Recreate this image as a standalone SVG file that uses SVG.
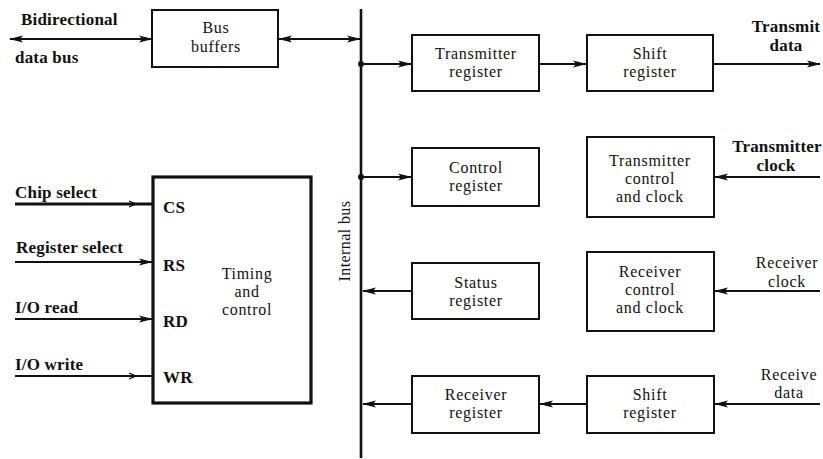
<svg xmlns="http://www.w3.org/2000/svg" width="823" height="459" viewBox="0 0 823 459">
  <style>
    .box { fill: #fff; stroke: #111; stroke-width: 2; }
    .heavy { fill: #fff; stroke: #111; stroke-width: 3.2; }
    .wire { fill: none; stroke: #111; stroke-width: 1.8; }
    .thick { fill: none; stroke: #111; stroke-width: 3; }
    .bus { fill: none; stroke: #111; stroke-width: 2.6; }
    text { font-family: "Liberation Serif", "Times New Roman", serif; font-size: 16px; letter-spacing: 0.7px; fill: #111; }
    .c { text-anchor: middle; }
    .b { font-weight: bold; font-size: 17px; letter-spacing: 0.2px; }
    .s { font-size: 16px; letter-spacing: 0.4px; }
  </style>
  <defs>
    <marker id="arr" viewBox="0 0 14 8" refX="13" refY="4" markerWidth="14" markerHeight="8" markerUnits="userSpaceOnUse" orient="auto-start-reverse">
      <path d="M0,0.5 L14,4 L0,7.5 L3,4 Z" fill="#111"/>
    </marker>
    <marker id="tick" viewBox="0 0 10 8" refX="6" refY="4" markerWidth="10" markerHeight="8" markerUnits="userSpaceOnUse" orient="auto">
      <path d="M0,1 L7,4 L0,7" fill="none" stroke="#111" stroke-width="1.3"/>
    </marker>
  </defs>

  <!-- connectors -->
  <g id="connectors">
    <!-- internal bus -->
    <line class="bus" x1="361" y1="9" x2="361" y2="458"/>
    <circle cx="361" cy="64" r="3" fill="#111"/>
    <circle cx="361" cy="177" r="3" fill="#111"/>

    <line class="wire" x1="10" y1="39" x2="152" y2="39" marker-start="url(#arr)" marker-end="url(#arr)"/>
    <line class="wire" x1="279" y1="39" x2="360" y2="39" marker-start="url(#arr)" marker-end="url(#arr)"/>

    <line class="wire" x1="361" y1="64" x2="411" y2="64" marker-end="url(#arr)"/>
    <line class="wire" x1="540" y1="64" x2="586" y2="64" marker-end="url(#arr)"/>
    <line class="wire" x1="714" y1="64" x2="820" y2="64" marker-end="url(#arr)"/>

    <line class="wire" x1="361" y1="177" x2="411" y2="177" marker-end="url(#arr)"/>
    <line class="wire" x1="820" y1="177" x2="715" y2="177" marker-end="url(#arr)"/>

    <line class="wire" x1="411" y1="291" x2="363" y2="291" marker-end="url(#arr)"/>
    <line class="wire" x1="820" y1="291" x2="715" y2="291" marker-end="url(#arr)"/>

    <line class="wire" x1="411" y1="404" x2="363" y2="404" marker-end="url(#arr)"/>
    <line class="wire" x1="586" y1="404" x2="540" y2="404" marker-end="url(#arr)"/>
    <line class="wire" x1="820" y1="404" x2="715" y2="404" marker-end="url(#arr)"/>

    <!-- control inputs -->
    <polyline class="thick" points="15,204 135,204 152,204" marker-mid="url(#tick)"/>
    <line class="wire" x1="15" y1="262" x2="152" y2="262" marker-end="url(#arr)"/>
    <line class="wire" x1="15" y1="319" x2="152" y2="319" marker-end="url(#arr)"/>
    <polyline class="wire" points="15,376 135,376 152,376" marker-mid="url(#tick)"/>
  </g>

  <!-- free labels -->
  <g id="labels">
    <text class="b" x="21" y="25">Bidirectional</text>
    <text class="b" x="15" y="63">data bus</text>
    <text class="b c" x="786" y="32">Transmit</text>
    <text class="b c" x="786" y="51">data</text>
    <text class="b c" x="777" y="152">Transmitter</text>
    <text class="b c" x="776" y="171">clock</text>
    <text class="c" x="787" y="268">Receiver</text>
    <text class="c" x="787" y="287">clock</text>
    <text class="c" x="789" y="380">Receive</text>
    <text class="c" x="789" y="398">data</text>
    <text class="b" x="15" y="198">Chip select</text>
    <text class="b" x="16" y="253">Register select</text>
    <text class="b" x="15" y="313">I/O read</text>
    <text class="b" x="15" y="370">I/O write</text>
    <text class="s c" transform="translate(350,241) rotate(-90)">Internal bus</text>
  </g>

  <g id="bus-buffers">
    <rect class="box" x="152" y="10" width="126" height="57"/>
    <text class="c" x="216" y="33">Bus</text>
    <text class="c" x="216" y="52">buffers</text>
  </g>

  <g id="transmitter-register">
    <rect class="box" x="412" y="35" width="127" height="56"/>
    <text class="c" x="476" y="59">Transmitter</text>
    <text class="c" x="476" y="77">register</text>
  </g>

  <g id="tx-shift-register">
    <rect class="box" x="587" y="35" width="126" height="56"/>
    <text class="c" x="650" y="59">Shift</text>
    <text class="c" x="650" y="77">register</text>
  </g>

  <g id="control-register">
    <rect class="box" x="412" y="148" width="127" height="58"/>
    <text class="c" x="476" y="173">Control</text>
    <text class="c" x="476" y="191">register</text>
  </g>

  <g id="transmitter-control">
    <rect class="box" x="587" y="137" width="127" height="80"/>
    <text class="c" x="650" y="166">Transmitter</text>
    <text class="c" x="650" y="184">control</text>
    <text class="c" x="650" y="202">and clock</text>
  </g>

  <g id="status-register">
    <rect class="box" x="412" y="263" width="127" height="56"/>
    <text class="c" x="476" y="288">Status</text>
    <text class="c" x="476" y="306">register</text>
  </g>

  <g id="receiver-control">
    <rect class="box" x="587" y="252" width="127" height="79"/>
    <text class="c" x="650" y="277">Receiver</text>
    <text class="c" x="650" y="295">control</text>
    <text class="c" x="650" y="313">and clock</text>
  </g>

  <g id="receiver-register">
    <rect class="box" x="412" y="376" width="127" height="57"/>
    <text class="c" x="476" y="400">Receiver</text>
    <text class="c" x="476" y="418">register</text>
  </g>

  <g id="rx-shift-register">
    <rect class="box" x="587" y="376" width="127" height="57"/>
    <text class="c" x="650" y="400">Shift</text>
    <text class="c" x="650" y="418">register</text>
  </g>

  <g id="timing-control">
    <rect class="heavy" x="153" y="177" width="158" height="226"/>
    <text class="b" x="163" y="213">CS</text>
    <text class="b" x="163" y="271">RS</text>
    <text class="b" x="163" y="327">RD</text>
    <text class="b" x="163" y="383">WR</text>
    <text class="c" x="247" y="279">Timing</text>
    <text class="c" x="247" y="297">and</text>
    <text class="c" x="247" y="315">control</text>
  </g>
</svg>
